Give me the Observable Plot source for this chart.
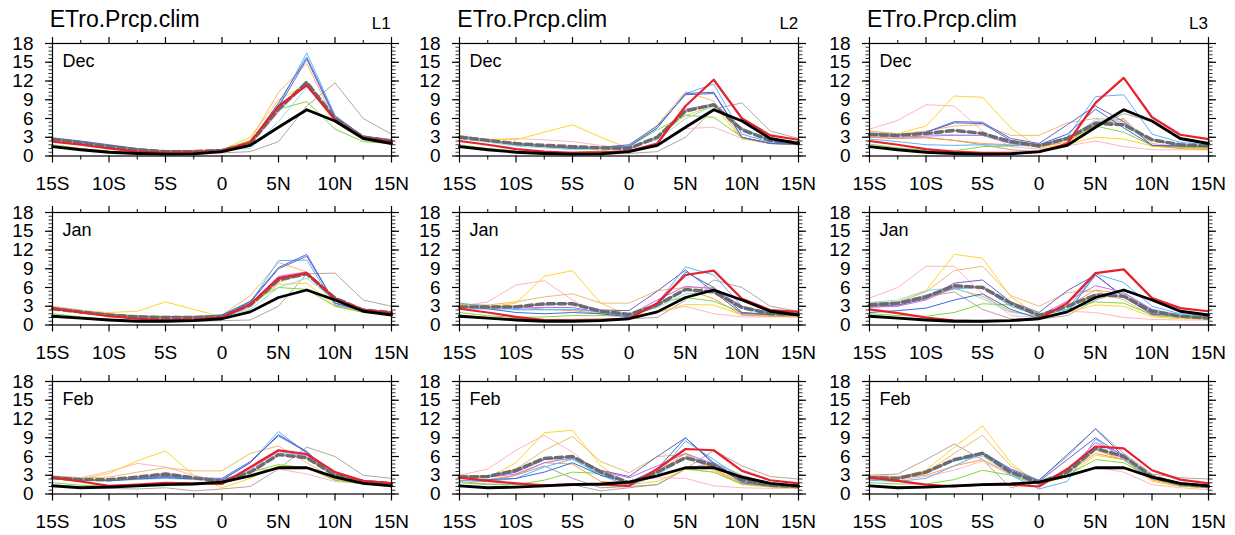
<!DOCTYPE html>
<html>
<head>
<meta charset="utf-8">
<script src="https://cdn.jsdelivr.net/npm/d3@7"></script>
<script src="https://cdn.jsdelivr.net/npm/@observablehq/plot@0.6"></script>
<style>
  html, body { margin: 0; padding: 0; background: #fff; }
  #wrap { position: relative; width: 1235px; height: 535px; overflow: hidden; font-family: "Liberation Sans", Arial, Helvetica, sans-serif; }
  .panel { position: absolute; }
  .title { position: absolute; font-size: 23px; line-height: 23px; color: #000; white-space: nowrap; }
  .lev { position: absolute; font-size: 17px; line-height: 17px; color: #000; text-align: right; width: 60px; }
</style>
</head>
<body>
<div id="wrap"></div>
<script>
// ---------- axes / categories ----------
const lats = [-15, -12.5, -10, -7.5, -5, -2.5, 0, 2.5, 5, 7.5, 10, 12.5, 15];
const xTicks = [-15, -10, -5, 0, 5, 10, 15];
const xTickLabels = ["15S", "10S", "5S", "0", "5N", "10N", "15N"];
const xMinor = [-12.5, -7.5, -2.5, 2.5, 7.5, 12.5];
const yTicks = [0, 3, 6, 9, 12, 15, 18];
const months = ["Dec", "Jan", "Feb"];
const levels = ["L1", "L2", "L3"];
const titleText = "ETro.Prcp.clim";

// thin model lines (drawing order) and their colours
const thinModels = ["br", "gy", "pk", "ye", "tan", "or", "gr", "cy", "lb", "bl", "sb", "vi"];
const modelColors = {
  lb: "#5cb4ff", bl: "#3a6fd8", sb: "#6a62c8", tan: "#f0bb70", ye: "#ffd62a", gr: "#84d63a",
  br: "#b3a89c", cy: "#8fdcef", pk: "#ffb6c4", vi: "#c56cf0", or: "#ff9f40", gy: "#a0a0a0"
};

// ---------- observations (black) ----------
const obsDec = [1.5, 1.0, 0.6, 0.4, 0.3, 0.35, 0.7, 1.7, 4.6, 7.4, 5.6, 2.8, 2.0];
const obsJan = [1.4, 1.1, 0.8, 0.6, 0.6, 0.7, 1.0, 2.1, 4.4, 5.6, 4.0, 2.2, 1.6];
const obsFeb = [1.3, 1.0, 1.1, 1.3, 1.5, 1.6, 1.9, 2.9, 4.2, 4.2, 2.7, 1.7, 1.3];

// ---------- Dec ----------
const decL1 = {
  red:  [2.3, 1.8, 1.2, 0.7, 0.5, 0.6, 0.8, 2.2, 8.0, 11.3, 5.8, 2.9, 2.3],
  mean: [2.7, 2.1, 1.5, 1.0, 0.7, 0.7, 0.9, 2.0, 7.5, 11.8, 6.0, 3.0, 2.4],
  lb:   [2.8, 2.3, 1.7, 1.1, 0.8, 0.8, 1.0, 2.0, 8.0, 16.5, 6.5, 3.0, 2.5],
  bl:   [2.8, 2.2, 1.6, 1.0, 0.7, 0.7, 0.9, 2.2, 8.5, 15.8, 6.3, 3.2, 2.6],
  sb:   [2.9, 2.4, 1.8, 1.2, 0.8, 0.8, 1.0, 2.0, 7.8, 15.5, 6.0, 3.1, 2.5],
  tan:  [2.6, 2.0, 1.5, 1.0, 0.9, 0.9, 1.0, 2.5, 10.2, 14.8, 5.5, 2.8, 2.2],
  ye:   [2.5, 1.9, 1.3, 0.9, 0.8, 0.9, 1.0, 3.0, 9.0, 11.5, 5.8, 2.8, 2.2],
  gr:   [1.8, 1.2, 0.8, 0.5, 0.4, 0.5, 0.8, 2.5, 7.5, 8.7, 4.3, 2.3, 2.0],
  br:   [1.5, 1.0, 0.6, 0.4, 0.3, 0.3, 0.5, 0.7, 2.3, 8.0, 11.7, 6.0, 3.5],
  cy:   [2.5, 2.0, 1.4, 0.9, 0.7, 0.8, 1.0, 1.2, 5.5, 11.0, 6.5, 3.2, 2.4],
  pk:   [2.6, 2.0, 1.4, 0.9, 0.7, 0.7, 0.9, 1.8, 7.0, 12.0, 6.0, 3.0, 2.4],
  vi:   [2.7, 2.1, 1.5, 1.0, 0.7, 0.7, 0.9, 2.0, 7.2, 11.5, 6.0, 3.0, 2.4]
};
const decL2 = {
  red:  [2.4, 1.8, 1.1, 0.7, 0.5, 0.6, 0.8, 2.0, 8.0, 12.2, 6.0, 3.3, 2.6],
  mean: [3.0, 2.5, 2.0, 1.7, 1.5, 1.3, 1.2, 3.0, 7.2, 8.2, 4.2, 2.5, 2.1],
  lb:   [3.2, 2.6, 2.0, 1.6, 1.4, 1.4, 1.6, 4.5, 10.0, 11.5, 3.5, 2.2, 2.0],
  bl:   [3.0, 2.4, 1.8, 1.5, 1.2, 1.3, 1.5, 4.5, 10.0, 10.2, 3.0, 2.0, 1.9],
  sb:   [3.0, 2.5, 1.9, 1.6, 1.3, 1.4, 1.8, 4.8, 9.8, 10.0, 3.0, 2.0, 1.9],
  tan:  [3.3, 2.6, 2.0, 1.6, 1.3, 1.2, 1.5, 5.0, 10.3, 8.8, 2.8, 2.1, 2.0],
  ye:   [3.2, 2.7, 2.6, 3.8, 5.0, 3.0, 1.2, 3.0, 6.5, 8.0, 2.7, 2.0, 1.8],
  gr:   [1.8, 1.2, 0.8, 0.5, 0.6, 0.8, 1.5, 4.2, 6.5, 6.2, 3.0, 2.0, 1.8],
  br:   [1.5, 1.0, 0.6, 0.4, 0.3, 0.3, 0.4, 0.7, 3.0, 7.5, 8.5, 4.0, 2.8],
  cy:   [2.8, 2.2, 1.6, 1.3, 1.0, 1.1, 1.4, 2.6, 6.0, 8.0, 4.5, 2.6, 2.0],
  pk:   [3.0, 2.6, 2.8, 2.6, 2.3, 1.7, 1.0, 1.5, 4.4, 4.6, 2.8, 2.2, 1.8],
  vi:   [3.0, 2.5, 2.0, 1.6, 1.4, 1.3, 1.3, 3.0, 7.5, 8.3, 4.3, 2.5, 2.1]
};
const decL3 = {
  red:  [2.4, 1.8, 1.1, 0.7, 0.5, 0.5, 0.6, 2.0, 8.5, 12.5, 6.2, 3.4, 2.7],
  mean: [3.4, 3.3, 3.6, 4.1, 3.6, 2.3, 1.6, 2.8, 5.2, 5.0, 2.6, 1.8, 1.6],
  lb:   [2.7, 2.3, 1.8, 1.7, 1.8, 1.7, 1.8, 3.0, 9.5, 9.8, 3.5, 2.2, 1.8],
  bl:   [3.5, 3.3, 3.8, 5.3, 5.2, 2.5, 1.8, 3.5, 7.5, 4.5, 1.7, 1.6, 1.5],
  sb:   [3.7, 3.4, 3.8, 5.5, 5.4, 2.8, 2.0, 5.0, 8.0, 5.5, 1.7, 1.6, 1.6],
  tan:  [4.0, 3.5, 4.0, 4.8, 5.0, 3.3, 3.3, 5.3, 6.0, 5.8, 2.0, 1.5, 1.3],
  ye:   [4.0, 3.6, 4.8, 9.6, 9.4, 4.5, 1.3, 1.8, 3.0, 2.7, 1.6, 1.3, 1.2],
  gr:   [1.9, 1.3, 0.9, 0.8, 1.5, 1.6, 1.8, 2.5, 4.8, 3.8, 1.7, 1.4, 1.3],
  br:   [3.0, 2.8, 3.0, 2.5, 1.8, 1.0, 0.7, 2.0, 4.5, 6.8, 5.5, 2.6, 2.0],
  cy:   [3.6, 3.5, 3.5, 3.4, 3.3, 2.0, 1.5, 2.6, 5.8, 5.5, 2.6, 1.8, 1.6],
  pk:   [4.3, 5.7, 8.2, 8.0, 4.0, 1.5, 1.1, 1.6, 2.4, 1.5, 1.0, 1.0, 1.0],
  vi:   [3.3, 3.0, 3.2, 3.3, 3.3, 2.0, 1.6, 3.0, 5.5, 5.2, 2.5, 1.7, 1.5],
  or:   [3.0, 2.8, 2.9, 2.5, 2.0, 1.8, 1.5, 2.2, 5.0, 6.0, 1.6, 1.2, 1.0]
};

// ---------- Jan ----------
const janL1 = {
  red:  [2.6, 2.0, 1.4, 1.0, 0.8, 0.9, 1.2, 3.3, 7.5, 8.3, 4.2, 2.4, 1.9],
  mean: [2.6, 2.1, 1.6, 1.3, 1.2, 1.2, 1.3, 3.2, 7.2, 8.2, 4.3, 2.4, 2.0],
  lb:   [2.8, 2.2, 1.7, 1.4, 1.3, 1.3, 1.6, 3.5, 10.3, 10.4, 3.2, 2.3, 2.0],
  bl:   [2.7, 2.1, 1.6, 1.4, 1.3, 1.3, 1.6, 3.8, 9.2, 11.3, 3.5, 2.3, 2.0],
  sb:   [2.8, 2.2, 1.7, 1.4, 1.3, 1.3, 1.5, 3.6, 9.0, 11.0, 3.5, 2.3, 2.0],
  tan:  [3.0, 2.4, 1.8, 1.5, 1.4, 1.4, 1.6, 4.7, 10.0, 8.5, 3.2, 2.2, 1.9],
  ye:   [2.9, 2.3, 2.0, 2.2, 3.7, 2.5, 1.3, 3.0, 6.5, 6.7, 3.0, 2.1, 1.8],
  gr:   [1.8, 1.3, 0.9, 0.7, 0.6, 0.7, 1.3, 3.8, 6.0, 5.7, 3.0, 2.0, 1.7],
  br:   [1.5, 1.1, 0.8, 0.6, 0.5, 0.6, 0.7, 0.8, 3.0, 8.2, 8.3, 4.0, 3.0],
  cy:   [2.5, 2.0, 1.5, 1.2, 1.1, 1.1, 1.3, 2.5, 6.0, 7.5, 4.0, 2.4, 2.0],
  pk:   [2.7, 2.2, 1.7, 1.4, 1.3, 1.3, 1.3, 2.8, 6.8, 8.3, 4.4, 2.5, 2.1],
  vi:   [2.7, 2.1, 1.6, 1.3, 1.2, 1.2, 1.4, 3.4, 7.8, 8.5, 4.2, 2.5, 2.0]
};
const janL2 = {
  red:  [2.6, 2.0, 1.3, 0.8, 0.7, 0.8, 1.0, 3.5, 8.0, 8.7, 4.2, 2.4, 2.1],
  mean: [2.9, 2.9, 2.9, 3.4, 3.4, 2.2, 1.7, 3.2, 5.7, 5.3, 2.8, 1.8, 1.7],
  lb:   [3.5, 3.0, 2.5, 2.5, 2.5, 2.2, 1.5, 3.5, 9.3, 8.0, 3.0, 2.0, 1.8],
  bl:   [2.9, 2.6, 2.0, 1.8, 2.0, 1.8, 1.3, 3.0, 8.5, 6.0, 2.0, 1.7, 1.6],
  sb:   [3.0, 2.9, 3.0, 3.2, 3.5, 2.4, 2.3, 5.4, 8.8, 5.3, 1.8, 1.7, 1.6],
  tan:  [3.3, 3.2, 3.7, 4.5, 5.0, 3.5, 3.5, 5.5, 6.0, 6.0, 2.0, 1.6, 1.5],
  ye:   [3.2, 2.9, 3.5, 7.8, 8.7, 3.5, 1.5, 2.0, 3.3, 3.2, 1.6, 1.5, 1.5],
  gr:   [2.0, 1.5, 1.2, 1.3, 1.5, 1.5, 1.5, 3.5, 4.4, 3.8, 2.0, 1.6, 1.5],
  br:   [1.6, 1.2, 1.0, 0.9, 0.9, 1.0, 1.0, 1.2, 4.0, 7.2, 6.0, 3.0, 2.2],
  cy:   [2.6, 2.5, 2.4, 2.4, 2.5, 2.0, 1.5, 2.8, 5.0, 5.2, 2.7, 1.8, 1.7],
  pk:   [3.0, 3.7, 6.4, 7.1, 4.0, 1.6, 1.2, 2.0, 3.0, 1.8, 1.3, 1.3, 1.3],
  vi:   [2.8, 2.7, 2.7, 2.8, 2.8, 2.0, 1.6, 4.0, 6.2, 5.8, 3.0, 1.8, 1.6],
  or:   [3.4, 3.0, 3.0, 2.5, 2.3, 1.8, 1.4, 3.0, 5.8, 4.2, 1.6, 1.4, 1.3]
};
const janL3 = {
  red:  [2.5, 1.9, 1.2, 0.7, 0.6, 0.7, 1.0, 3.5, 8.3, 8.9, 4.3, 2.7, 2.2],
  mean: [3.2, 3.5, 4.5, 6.3, 6.0, 3.5, 1.5, 3.0, 4.8, 4.6, 2.2, 1.4, 1.1],
  lb:   [3.2, 3.5, 4.8, 5.8, 6.0, 3.0, 1.5, 2.5, 8.2, 6.8, 3.0, 1.8, 1.6],
  bl:   [2.0, 2.3, 2.7, 4.0, 5.0, 2.5, 1.0, 2.0, 8.0, 4.5, 1.8, 1.5, 1.2],
  sb:   [3.0, 3.2, 4.2, 6.7, 7.2, 3.7, 2.0, 5.5, 8.0, 4.5, 1.7, 1.5, 1.3],
  tan:  [3.5, 3.7, 5.3, 8.7, 9.4, 4.7, 3.0, 5.2, 5.5, 4.0, 1.5, 1.2, 1.0],
  ye:   [3.3, 3.5, 5.5, 11.3, 10.7, 4.5, 1.5, 2.0, 3.2, 3.0, 1.3, 1.0, 0.9],
  gr:   [1.8, 1.5, 1.4, 2.0, 3.4, 3.2, 1.8, 2.5, 3.7, 3.5, 1.6, 1.2, 1.0],
  br:   [2.8, 3.0, 4.5, 5.3, 2.5, 1.0, 0.9, 1.5, 4.0, 5.5, 4.0, 2.3, 1.6],
  cy:   [3.6, 4.0, 5.5, 6.0, 4.2, 2.0, 1.5, 2.5, 5.0, 5.0, 2.5, 1.7, 1.4],
  pk:   [4.3, 6.0, 9.4, 9.4, 5.0, 1.5, 1.2, 2.2, 2.0, 1.2, 0.9, 0.8, 0.8],
  vi:   [3.0, 3.0, 4.0, 6.0, 6.2, 3.5, 1.5, 3.8, 6.3, 5.2, 2.5, 1.5, 1.2],
  or:   [3.5, 3.6, 4.5, 5.8, 4.6, 2.2, 1.3, 3.0, 5.6, 5.0, 2.2, 1.4, 1.1]
};

// ---------- Feb ----------
const febL1 = {
  red:  [2.6, 2.0, 1.3, 1.5, 1.8, 1.7, 1.6, 4.3, 7.0, 6.4, 3.5, 2.1, 1.7],
  mean: [2.6, 2.3, 2.3, 2.7, 3.2, 2.6, 2.0, 3.5, 6.3, 5.8, 3.0, 2.0, 1.7],
  lb:   [2.8, 2.3, 2.2, 2.5, 2.7, 2.5, 2.3, 5.0, 10.0, 6.5, 2.8, 2.0, 1.8],
  bl:   [2.7, 2.2, 2.1, 2.4, 2.6, 2.4, 2.2, 5.0, 9.5, 6.8, 2.7, 1.9, 1.7],
  sb:   [2.8, 2.4, 2.2, 2.6, 2.8, 2.6, 2.5, 5.2, 9.3, 6.7, 2.8, 2.0, 1.8],
  tan:  [2.9, 2.6, 2.7, 3.5, 4.2, 3.7, 3.7, 6.5, 7.7, 5.0, 2.4, 1.8, 1.6],
  ye:   [2.8, 2.4, 3.3, 5.3, 6.9, 3.0, 1.0, 2.5, 4.5, 4.3, 2.3, 1.7, 1.5],
  gr:   [1.8, 1.4, 1.3, 1.4, 1.5, 1.7, 2.0, 3.5, 4.7, 4.2, 2.2, 1.6, 1.4],
  br:   [1.5, 1.1, 0.9, 0.8, 1.0, 0.5, 0.8, 1.2, 4.0, 7.5, 6.0, 3.0, 2.5],
  cy:   [2.5, 2.2, 2.1, 2.3, 2.5, 2.3, 2.1, 3.5, 6.5, 6.2, 3.0, 2.0, 1.7],
  pk:   [2.8, 2.6, 3.6, 4.9, 4.3, 3.0, 2.0, 3.8, 4.0, 3.2, 2.0, 1.7, 1.5],
  vi:   [2.6, 2.3, 2.3, 2.7, 3.0, 2.6, 2.1, 4.0, 6.8, 6.2, 3.1, 2.0, 1.7]
};
const febL2 = {
  red:  [2.6, 2.1, 1.7, 1.4, 1.6, 1.5, 1.3, 4.0, 7.2, 7.0, 3.7, 2.2, 1.7],
  mean: [2.7, 2.8, 3.8, 5.7, 6.0, 3.5, 1.8, 3.5, 5.8, 4.6, 2.3, 1.4, 1.2],
  lb:   [2.2, 2.0, 2.5, 4.3, 5.6, 3.0, 1.3, 3.0, 8.5, 5.5, 2.5, 1.5, 1.2],
  bl:   [2.5, 2.3, 2.5, 3.5, 5.0, 3.0, 1.8, 4.0, 9.0, 5.0, 2.0, 1.4, 1.2],
  sb:   [2.9, 2.7, 3.5, 5.5, 6.0, 3.8, 2.8, 6.0, 9.0, 4.8, 1.8, 1.3, 1.1],
  tan:  [3.0, 2.9, 4.0, 7.0, 9.2, 5.2, 3.4, 6.0, 6.3, 3.8, 1.6, 1.2, 1.0],
  ye:   [2.8, 2.6, 5.0, 9.8, 10.2, 4.5, 1.5, 2.0, 4.0, 3.5, 1.5, 1.1, 0.9],
  gr:   [1.8, 1.5, 1.5, 2.2, 3.5, 3.3, 2.0, 3.0, 4.0, 3.5, 1.6, 1.2, 1.0],
  br:   [2.0, 1.6, 1.5, 1.5, 1.5, 0.5, 1.0, 1.5, 4.0, 7.0, 4.5, 2.8, 2.4],
  cy:   [2.6, 2.8, 3.8, 5.5, 5.5, 3.2, 1.8, 3.0, 6.0, 5.0, 2.4, 1.5, 1.3],
  pk:   [3.0, 4.0, 7.0, 9.4, 6.7, 3.0, 2.0, 2.6, 2.5, 1.3, 1.0, 0.9, 0.9],
  vi:   [2.8, 2.7, 3.2, 5.0, 5.8, 3.7, 2.6, 4.5, 6.5, 4.8, 2.3, 1.4, 1.2],
  or:   [2.5, 2.3, 3.0, 5.0, 4.8, 2.0, 1.7, 3.5, 6.5, 4.0, 1.8, 1.2, 1.0],
  gy:   [2.2, 2.0, 3.0, 4.5, 2.5, 1.0, 1.2, 1.5, 4.0, 5.0, 3.0, 1.7, 1.3]
};
const febL3 = {
  red:  [2.6, 2.1, 1.5, 1.2, 1.5, 1.5, 1.2, 4.0, 7.6, 7.3, 3.8, 2.3, 1.7],
  mean: [2.6, 2.5, 3.5, 5.5, 6.5, 3.5, 1.8, 3.5, 7.3, 6.0, 2.8, 1.6, 1.2],
  lb:   [2.2, 2.0, 2.5, 4.5, 6.5, 3.0, 0.8, 2.0, 8.8, 5.5, 2.5, 1.6, 1.3],
  bl:   [2.7, 2.6, 3.5, 5.5, 6.7, 4.0, 2.2, 6.3, 10.4, 6.0, 2.5, 1.5, 1.2],
  sb:   [2.8, 2.6, 3.5, 5.3, 6.5, 3.8, 2.0, 5.5, 9.0, 6.0, 2.6, 1.5, 1.2],
  tan:  [3.0, 2.8, 3.5, 6.5, 9.4, 4.5, 2.0, 3.5, 7.0, 5.5, 2.3, 1.3, 1.0],
  ye:   [2.8, 2.7, 3.8, 7.5, 10.9, 5.0, 1.5, 2.8, 6.2, 5.5, 2.0, 1.2, 1.0],
  gr:   [1.8, 1.6, 1.6, 2.3, 3.8, 3.0, 1.5, 3.0, 5.5, 5.0, 2.5, 1.3, 1.0],
  br:   [3.0, 3.2, 5.5, 8.0, 5.5, 1.0, 2.2, 6.0, 10.5, 6.5, 3.2, 2.6, 2.4],
  cy:   [2.6, 2.5, 3.3, 5.3, 6.0, 3.2, 1.5, 3.0, 7.0, 6.0, 2.8, 1.6, 1.3],
  pk:   [2.5, 2.2, 2.8, 3.8, 5.3, 3.0, 1.5, 3.0, 4.3, 3.5, 1.5, 1.0, 0.7],
  vi:   [2.7, 2.5, 3.3, 5.5, 6.3, 3.6, 1.8, 3.8, 8.2, 6.3, 2.8, 1.6, 1.2],
  or:   [2.6, 2.5, 3.0, 4.5, 5.5, 3.2, 1.5, 3.3, 6.5, 5.5, 2.3, 1.3, 1.1]
};

const panelGrid = [
  [decL1, decL2, decL3],
  [janL1, janL2, janL3],
  [febL1, febL2, febL3]
];
const obsByRow = [obsDec, obsJan, obsFeb];

// ---------- layout ----------
const frameLefts = [51.7, 459.3, 869];
const frameTops = [42.7, 212.3, 381];
const mL = 52, mR = 30, mT = 45, mB = 45, fW = 339, fH = 112.5;
const FONT = "'Liberation Sans', Arial, Helvetica, sans-serif";

const toRows = (vals) => lats.map((x, i) => ({x, y: vals[i]}));
const fmtX = (d) => xTickLabels[xTicks.indexOf(d)];

function makePanel(data, obs, month) {
  const marks = [];
  for (const m of thinModels) {
    if (data[m]) marks.push(Plot.line(toRows(data[m]), {x: "x", y: "y", stroke: modelColors[m], strokeWidth: 1}));
  }
  marks.push(Plot.line(toRows(data.mean), {x: "x", y: "y", stroke: "#d9b8e8", strokeWidth: 1.2}));
  marks.push(Plot.line(toRows(data.mean), {x: "x", y: "y", stroke: "#6b6b6b", strokeWidth: 3.4, strokeDasharray: "7,4"}));
  marks.push(Plot.line(toRows(data.red), {x: "x", y: "y", stroke: "#e8202a", strokeWidth: 2.2}));
  marks.push(Plot.line(toRows(obs), {x: "x", y: "y", stroke: "#000", strokeWidth: 2.8}));
  marks.push(Plot.frame({stroke: "#000", strokeWidth: 1.2}));
  // axes
  marks.push(Plot.axisX(xTicks, {anchor: "bottom", tickSize: 7, tickPadding: 13, tickFormat: fmtX, fontSize: 19, label: null, strokeWidth: 1.2}));
  marks.push(Plot.axisX(xMinor, {anchor: "bottom", tickSize: 4, tickFormat: () => "", label: null}));
  marks.push(Plot.axisX(xTicks, {anchor: "top", tickSize: 7, tickFormat: () => "", label: null, strokeWidth: 1.2}));
  marks.push(Plot.axisX(xMinor, {anchor: "top", tickSize: 4, tickFormat: () => "", label: null}));
  marks.push(Plot.axisY(yTicks, {anchor: "left", tickSize: 7, tickPadding: 12, fontSize: 19, label: null, strokeWidth: 1.2}));
  marks.push(Plot.axisY(d3.range(0, 18.01, 0.6), {anchor: "left", tickSize: 3.5, tickFormat: () => "", label: null, strokeWidth: 0.8}));
  marks.push(Plot.axisY(yTicks, {anchor: "right", tickSize: 7, tickFormat: () => "", label: null, strokeWidth: 1.2}));
  marks.push(Plot.axisY(d3.range(0, 18.01, 0.6), {anchor: "right", tickSize: 3.5, tickFormat: () => "", label: null, strokeWidth: 0.8}));
  marks.push(Plot.text([month], {frameAnchor: "top-left", dx: 10, dy: 11, text: (d) => d, fontSize: 18, textAnchor: "start", lineAnchor: "top", fill: "#000"}));
  return Plot.plot({
    width: mL + fW + mR,
    height: mT + fH + mB,
    marginLeft: mL, marginRight: mR, marginTop: mT, marginBottom: mB,
    x: {domain: [-15, 15], axis: null},
    y: {domain: [0, 18], axis: null},
    style: {background: "none", fontFamily: FONT, fontSize: "19px", color: "#000", overflow: "visible", maxWidth: "none"},
    marks
  });
}

const wrap = document.getElementById("wrap");
for (let r = 0; r < 3; r++) {
  for (let c = 0; c < 3; c++) {
    const div = document.createElement("div");
    div.className = "panel";
    div.style.left = (frameLefts[c] - mL) + "px";
    div.style.top = (frameTops[r] - mT) + "px";
    div.appendChild(makePanel(panelGrid[r][c], obsByRow[r], months[r]));
    wrap.appendChild(div);
  }
}
for (let c = 0; c < 3; c++) {
  const t = document.createElement("div");
  t.className = "title";
  t.textContent = titleText;
  t.style.left = (frameLefts[c] - 2) + "px";
  t.style.top = "7.8px";
  wrap.appendChild(t);
  const l = document.createElement("div");
  l.className = "lev";
  l.textContent = levels[c];
  l.style.left = (frameLefts[c] + fW - 60) + "px";
  l.style.top = "14.5px";
  wrap.appendChild(l);
}
</script>
</body>
</html>
